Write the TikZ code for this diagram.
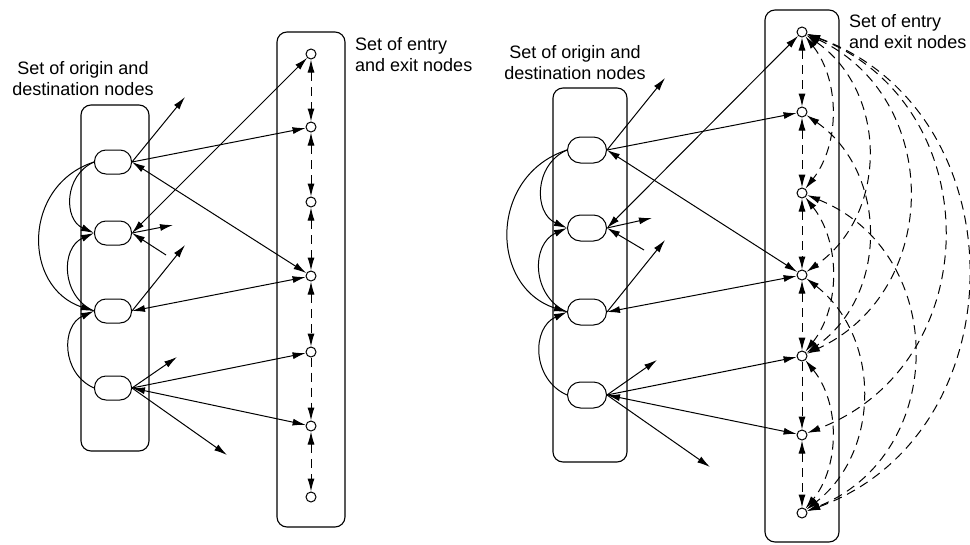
\documentclass[tikz,border=0pt]{standalone}
\usepackage{fontspec}
\setmainfont{Liberation Sans}
\usetikzlibrary{arrows.meta}
\begin{document}
\begin{tikzpicture}[x=1pt,y=-1pt,
  >={Latex[length=13pt,width=7pt]},
  lbl/.style={font=\fontsize{18}{21}\selectfont, align=center, inner sep=0pt},
  odl/.style={draw, rectangle, rounded corners=11.5pt, minimum width=37pt, minimum height=24pt, inner sep=0pt, line width=1pt},
  odr/.style={draw, rectangle, rounded corners=13pt, minimum width=39pt, minimum height=26pt, inner sep=0pt, line width=1pt},
  eex/.style={draw, circle, fill=white, minimum size=10pt, inner sep=0pt, line width=1pt},
  con/.style={line width=1pt},
  dsh/.style={line width=1pt, dash pattern=on 9pt off 6pt},
  setbox/.style={rounded corners=10pt, line width=1.1pt}]
\useasboundingbox (0,0) rectangle (970,544);

% ---------------- left panel ----------------
\draw[setbox] (81,105) rectangle (149,451);
\draw[setbox] (277,32) rectangle (345,527);
\node[lbl] (odL) at (83,79) {Set of origin and\\destination nodes};
\node[lbl, anchor=west, align=left] (eeL) at (355,55) {Set of entry\\and exit nodes};

\node[odl] (L1) at (113,162) {};
\node[odl] (L2) at (113,233) {};
\node[odl] (L3) at (113,311) {};
\node[odl] (L4) at (113,388) {};
\foreach \i/\y in {1/54,2/127,3/202,4/276,5/352,6/426,7/497}
  \node[eex] (a\i) at (311,\y) {};

\coordinate (fL1) at (185,97);
\coordinate (fL2) at (173,225);
\coordinate (gL2) at (166,255);
\coordinate (fL3) at (185,245);
\coordinate (fL4) at (177,357);
\coordinate (gL4) at (227,455);

\draw[con,->] (L1.west) to[bend right=66, looseness=1.2] (L2.west);
\draw[con,->] (L1.west) to[bend right=72, looseness=1.3] (L3.west);
\draw[con,->] (L3.west) to[bend left=66, looseness=1.2] (L2.west);
\draw[con,->] (L4.west) to[bend left=66, looseness=1.2] (L3.west);

\draw[con,->] (L1.east) -- (fL1);
\draw[con,->] (L1.east) -- (a2);
\draw[con,<->] (L1.east) -- (a4);
\draw[con,<->] (L2.east) -- (a1);
\draw[con,->] (L2.east) -- (fL2);
\draw[con,->] (gL2) -- (L2.east);
\draw[con,->] (L3.east) -- (fL3);
\draw[con,<->] (L3.east) -- (a4);
\draw[con,->] (L4.east) -- (fL4);
\draw[con,->] (L4.east) -- (a5);
\draw[con,<->] (L4.east) -- (a6);
\draw[con,->] (L4.east) -- (gL4);

\draw[dsh,<->] (a1) -- (a2);
\draw[dsh,<->] (a2) -- (a3);
\draw[dsh,<->] (a3) -- (a4);
\draw[dsh,<->] (a4) -- (a5);
\draw[dsh,->] (a5) -- (a6);
\draw[dsh,<->] (a6) -- (a7);

% ---------------- right panel ----------------
\draw[setbox] (553,88) rectangle (627,462);
\draw[setbox] (765,10) rectangle (839,542);
\node[lbl] (odR) at (575,63) {Set of origin and\\destination nodes};
\node[lbl, anchor=west, align=left] (eeR) at (849,32) {Set of entry\\and exit nodes};

\node[odr] (R1) at (587,150) {};
\node[odr] (R2) at (587,228) {};
\node[odr] (R3) at (587,312) {};
\node[odr] (R4) at (587,395) {};
\foreach \i/\y in {1/32,2/112,3/193,4/275,5/356,6/435,7/513}
  \node[eex] (b\i) at (802,\y) {};

\coordinate (fR1) at (665,78);
\coordinate (fR2) at (652,218);
\coordinate (gR2) at (644,250);
\coordinate (fR3) at (665,240);
\coordinate (fR4) at (657,360);
\coordinate (gR4) at (710,467);

\draw[con,->] (R1.west) to[bend right=66, looseness=1.2] (R2.west);
\draw[con,->] (R1.west) to[bend right=72, looseness=1.3] (R3.west);
\draw[con,->] (R3.west) to[bend left=66, looseness=1.2] (R2.west);
\draw[con,->] (R4.west) to[bend left=66, looseness=1.2] (R3.west);

\draw[con,->] (R1.east) -- (fR1);
\draw[con,->] (R1.east) -- (b2);
\draw[con,<->] (R1.east) -- (b4);
\draw[con,<->] (R2.east) -- (b1);
\draw[con,->] (R2.east) -- (fR2);
\draw[con,->] (gR2) -- (R2.east);
\draw[con,->] (R3.east) -- (fR3);
\draw[con,<->] (R3.east) -- (b4);
\draw[con,->] (R4.east) -- (fR4);
\draw[con,->] (R4.east) -- (b5);
\draw[con,<->] (R4.east) -- (b6);
\draw[con,->] (R4.east) -- (gR4);

\draw[dsh,<->] (b1) -- (b2);
\draw[dsh,<->] (b2) -- (b3);
\draw[dsh,<->] (b3) -- (b4);
\draw[dsh,<->] (b4) -- (b5);
\draw[dsh,->] (b5) -- (b6);
\draw[dsh,<->] (b6) -- (b7);

\draw[dsh,<->] (b1) to[bend left=38, looseness=0.95] (b3);
\draw[dsh,<->] (b1) to[bend left=55, looseness=1.08] (b4);
\draw[dsh,<->] (b1) to[bend left=65, looseness=1.2] (b5);
\draw[dsh,<->] (b1) to[bend left=69, looseness=1.25] (b6);
\draw[dsh,<->] (b1) to[bend left=70, looseness=1.22] (b7);
\draw[dsh,<->] (b2) to[bend left=55, looseness=1.08] (b5);
\draw[dsh,<->] (b3) to[bend left=38, looseness=0.95] (b5);
\draw[dsh,<->] (b3) to[bend left=68, looseness=1.24] (b7);
\draw[dsh,<->] (b4) to[bend left=52, looseness=1.05] (b7);
\draw[dsh,<->] (b5) to[bend left=39, looseness=0.95] (b7);
\end{tikzpicture}
\end{document}
